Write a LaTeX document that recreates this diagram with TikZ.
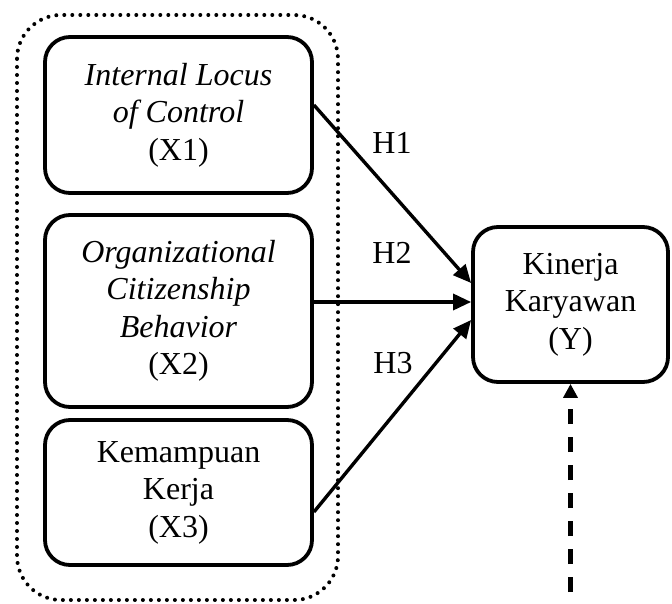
\documentclass[tikz,border=0pt]{standalone}
\usepackage{fontspec}
\setmainfont{Liberation Serif}
\usetikzlibrary{arrows.meta}
\begin{document}
\begin{tikzpicture}[x=0.5pt,y=-0.5pt,
  box/.style={draw,line width=1.9pt,rounded corners=12.5pt,align=center,
    font=\fontsize{16pt}{18.75pt}\selectfont,inner sep=0pt},
  lbl/.style={font=\fontsize{16pt}{18.75pt}\selectfont,inner sep=0pt},
  arr/.style={line width=1.7pt,-{Triangle[length=9pt,width=8pt]}},
  grp/.style={line width=2pt,line cap=round,dash pattern=on 0pt off 4pt,rounded corners=22pt}]
\useasboundingbox (0,0) rectangle (672,603);
\draw[grp] (17,15) rectangle (338,600);
\node[box,minimum width=133.5pt,minimum height=78pt] (x1) at (178.5,115)
  {\textit{Internal Locus}\\\textit{of Control}\\(X1)};
\node[box,minimum width=133.5pt,minimum height=96pt] (x2) at (178.5,311)
  {\textit{Organizational}\\\textit{Citizenship}\\\textit{Behavior}\\(X2)};
\node[box,minimum width=133.5pt,minimum height=72.5pt] (x3) at (178.5,492.5)
  {Kemampuan\\Kerja\\(X3)};
\node[box,minimum width=97.5pt,minimum height=77.5pt] (ky) at (570.5,304.5)
  {Kinerja\\Karyawan\\(Y)};
\coordinate (s1) at ([yshift=5pt]x1.east);
\coordinate (e1) at ([yshift=10.75pt]ky.west);
\coordinate (e2) at ([yshift=1.25pt]ky.west);
\coordinate (s3) at ([yshift=-9.75pt]x3.east);
\coordinate (e3) at ([yshift=-7.75pt]ky.west);
\draw[arr] (s1) -- (e1);
\draw[arr] (x2.east |- e2) -- (e2);
\draw[arr] (s3) -- (e3);
\node[lbl] (h1) at (392,143) {H1};
\node[lbl] (h2) at (392,253) {H2};
\node[lbl] (h3) at (393,363) {H3};
\coordinate (d) at (570.5,592);
\draw[line width=2.3pt,dash pattern=on 7.5pt off 6.5pt,-{Triangle[length=7pt,width=7pt]}] (d) -- (ky.south);
\end{tikzpicture}
\end{document}
